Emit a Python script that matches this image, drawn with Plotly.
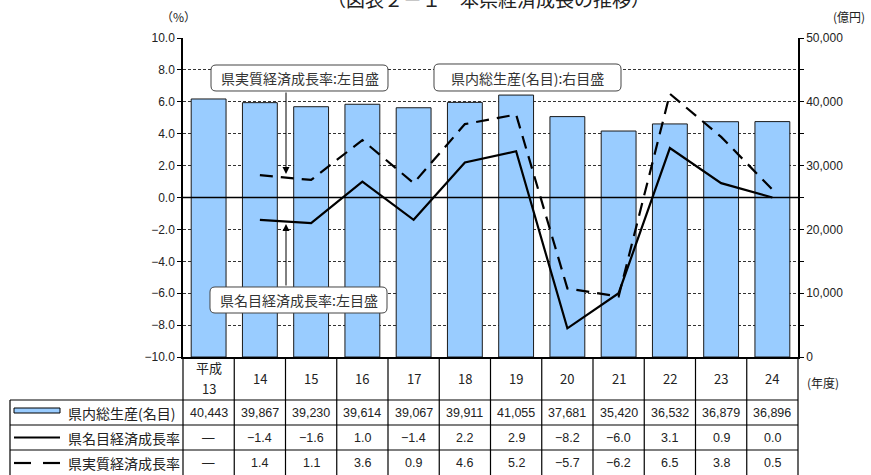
import plotly.graph_objects as go

# ---------------- data ----------------
years = ["平成<br>13", "14", "15", "16", "17", "18", "19", "20", "21", "22", "23", "24"]
gdp = [40443, 39867, 39230, 39614, 39067, 39911, 41055, 37681, 35420, 36532, 36879, 36896]
nominal = [None, -1.4, -1.6, 1.0, -1.4, 2.2, 2.9, -8.2, -6.0, 3.1, 0.9, 0.0]
real = [None, 1.4, 1.1, 3.6, 0.9, 4.6, 5.2, -5.7, -6.2, 6.5, 3.8, 0.5]
row_labels = ["県内総生産(名目)", "県名目経済成長率", "県実質経済成長率"]
title_text = "（図表２－１　本県経済成長の推移）"

# ---------------- geometry (pixels) ----------------
W_PX, H_PX = 871, 475
L, R, T, B = 183, 798, 38, 357
PW, PH = R - L, B - T
N = len(years)
BW = PW / N

def px(x):
    return (x - L) / PW

def py(y):
    return (B - y) / PH

FONT_JP = "Noto Sans CJK JP"
FONT_NUM = "Liberation Sans, Arial, sans-serif"

xs = list(range(N))

fig = go.Figure()
fig.add_trace(go.Bar(
    x=xs, y=gdp, yaxis="y", width=0.68,
    marker=dict(color="#99CCFF", line=dict(color="#1a1a1a", width=1)),
    hoverinfo="skip",
))
fig.add_trace(go.Scatter(
    x=xs, y=nominal, yaxis="y2", mode="lines",
    line=dict(color="black", width=2.2),
))
fig.add_trace(go.Scatter(
    x=xs, y=real, yaxis="y2", mode="lines",
    line=dict(color="black", width=2.2, dash="13px,8px"),
))

fig.update_layout(
    width=W_PX, height=H_PX,
    margin=dict(l=L, r=W_PX - R, t=T, b=H_PX - B, pad=0),
    paper_bgcolor="white", plot_bgcolor="white",
    showlegend=False,
    font=dict(family=FONT_NUM, size=12, color="#222"),
    xaxis=dict(range=[-0.5, N - 0.5], showticklabels=False, showgrid=False,
               zeroline=False, showline=True, linecolor="black", linewidth=1.5,
               ticks=""),
    yaxis=dict(side="right", range=[0, 50000], dtick=10000, tickformat=",d",
               showgrid=False, zeroline=False, showline=True,
               linecolor="black", linewidth=1.5, ticks="outside", ticklen=4,
               tickcolor="black", tickfont=dict(family=FONT_NUM, size=12, color="#222"),
               minor=dict(dtick=5000, ticks="outside", ticklen=4, tickcolor="black")),
    yaxis2=dict(overlaying="y", side="left", range=[-10, 10], dtick=2,
                tickformat=".1f", showgrid=True, gridcolor="#333",
                griddash="3px,2px", gridwidth=1, zeroline=False,
                showline=True, linecolor="black", linewidth=1.5,
                ticks="outside", ticklen=4, tickcolor="black",
                tickfont=dict(family=FONT_NUM, size=12, color="#222")),
)

shapes = []
# zero line across bars
shapes.append(dict(type="line", xref="paper", yref="y2", x0=0, x1=1, y0=0, y1=0,
                   line=dict(color="black", width=1.6), layer="above"))

# ---------------- table grid ----------------
TBL_L = 10
row_y = [400, 425, 450]
for yy in row_y:
    shapes.append(dict(type="line", xref="paper", yref="paper",
                       x0=px(TBL_L), x1=px(R), y0=py(yy), y1=py(yy),
                       line=dict(color="black", width=1.2)))
shapes.append(dict(type="line", xref="paper", yref="paper",
                   x0=px(TBL_L), x1=px(TBL_L), y0=py(400), y1=py(476),
                   line=dict(color="black", width=1.2)))
for k in range(N + 1):
    xx = L + k * BW
    shapes.append(dict(type="line", xref="paper", yref="paper",
                       x0=px(xx), x1=px(xx), y0=py(B), y1=py(476),
                       line=dict(color="black", width=1.2)))

# legend samples in the table
shapes.append(dict(type="rect", xref="paper", yref="paper",
                   x0=px(14), x1=px(60), y0=py(413), y1=py(408),
                   fillcolor="#99CCFF", line=dict(color="black", width=1)))
shapes.append(dict(type="line", xref="paper", yref="paper",
                   x0=px(14), x1=px(60), y0=py(437.5), y1=py(437.5),
                   line=dict(color="black", width=2.2)))
for a, b in [(14, 31), (43, 60)]:
    shapes.append(dict(type="line", xref="paper", yref="paper",
                       x0=px(a), x1=px(b), y0=py(463), y1=py(463),
                       line=dict(color="black", width=2.2)))

# ---------------- callout boxes ----------------
def rrect(x0, y0, x1, y1, r=5):
    X = lambda v: f"{px(v):.5f}"
    Y = lambda v: f"{py(v):.5f}"
    return (f"M {X(x0 + r)},{Y(y0)} L {X(x1 - r)},{Y(y0)} Q {X(x1)},{Y(y0)} {X(x1)},{Y(y0 + r)} "
            f"L {X(x1)},{Y(y1 - r)} Q {X(x1)},{Y(y1)} {X(x1 - r)},{Y(y1)} "
            f"L {X(x0 + r)},{Y(y1)} Q {X(x0)},{Y(y1)} {X(x0)},{Y(y1 - r)} "
            f"L {X(x0)},{Y(y0 + r)} Q {X(x0)},{Y(y0)} {X(x0 + r)},{Y(y0)} Z")

callouts = [
    ("県実質経済成長率:左目盛", 211, 65, 388, 91),
    ("県名目経済成長率:左目盛", 210, 287, 387, 313),
    ("県内総生産(名目):右目盛", 434, 64, 621, 91),
]
annotations = []

def txt(text, x, y, size=12, family=FONT_JP, xref="paper", xanchor="center"):
    return dict(text=text, xref=xref, yref="paper", x=x, y=y, showarrow=False,
                xanchor=xanchor, yanchor="middle", align="center",
                font=dict(family=family, size=size, color="#222"))

for text, x0, y0, x1, y1 in callouts:
    shapes.append(dict(type="path", xref="paper", yref="paper", path=rrect(x0, y0, x1, y1),
                       fillcolor="white", line=dict(color="#444", width=1), layer="above"))
    a = txt(text, px((x0 + x1) / 2), py((y0 + y1) / 2), size=14)
    a["font"]["color"] = "#333"
    annotations.append(a)

# arrows
annotations.append(dict(text="", xref="paper", yref="paper", x=px(286), y=py(174),
                        ax=0, ay=-(174 - 91), showarrow=True, arrowhead=2, arrowsize=1.4,
                        arrowwidth=1, arrowcolor="black", standoff=0))
annotations.append(dict(text="", xref="paper", yref="paper", x=px(286), y=py(224),
                        ax=0, ay=(287 - 224), showarrow=True, arrowhead=2, arrowsize=1.4,
                        arrowwidth=1, arrowcolor="black", standoff=0))

# ---------------- table texts ----------------
def fmt_rate(v):
    if v is None:
        return "—"
    return f"{v:.1f}".replace("-", "−")

for k in range(N):
    parts = years[k].split("<br>")
    if len(parts) == 2:
        annotations.append(txt(parts[0], k, py(367), size=13, xref="x"))
        annotations.append(txt(parts[1], k, py(388), size=13, xref="x"))
    else:
        annotations.append(txt(parts[0], k, py(378.5), size=13, xref="x"))
    annotations.append(txt(f"{gdp[k]:,}", k, py(412.5), size=12.5, family=FONT_NUM, xref="x"))
    annotations.append(txt(fmt_rate(nominal[k]), k, py(438), size=12.5, family=FONT_NUM, xref="x"))
    annotations.append(txt(fmt_rate(real[k]), k, py(463), size=12.5, family=FONT_NUM, xref="x"))

for lbl, yy in zip(row_labels, [412.5, 438, 463]):
    annotations.append(txt(lbl, px(66), py(yy), size=14, xanchor="left"))

# axis unit labels and title
annotations.append(txt("（%）", px(178), py(17), size=12))
annotations.append(txt("(億円)", px(849), py(17), size=12))
annotations.append(txt("(年度)", px(823), py(382), size=12))
annotations.append(txt(title_text, px(488), py(-2), size=19))

fig.update_layout(shapes=shapes, annotations=annotations)
fig.write_html(
    "out.html",
    config={"displayModeBar": False},
    post_script="document.body.style.margin='0';document.body.style.padding='0';"
                "document.documentElement.style.overflow='hidden';",
)
